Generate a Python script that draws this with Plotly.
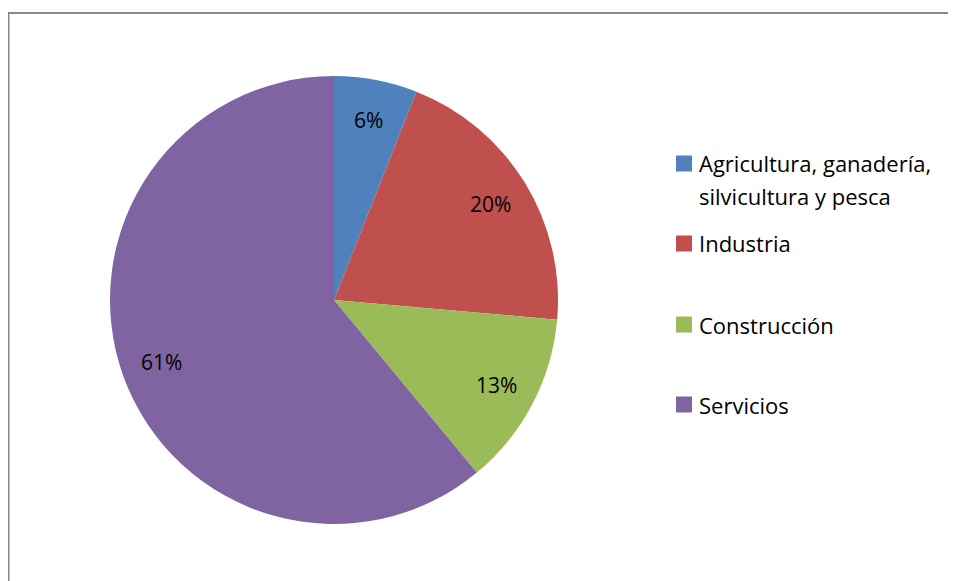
import math
import plotly.graph_objects as go

categories = ["Agricultura, ganadería, silvicultura y pesca", "Industria", "Construcción", "Servicios"]
legend_lines = [["Agricultura, ganadería,", "silvicultura y pesca"], ["Industria"], ["Construcción"], ["Servicios"]]
values = [6.0, 20.4, 12.6, 61.0]
colors = ["#4F81BD", "#C0504D", "#9BBB59", "#8064A2"]

# page body has an 8px margin: figure coords = screen coords - 8
W, H = 948, 573
cx, cy, r = 326, 292, 224
FONT = "Open Sans"

fig = go.Figure(go.Pie(
    labels=categories,
    values=values,
    sort=False,
    direction="clockwise",
    rotation=0,
    marker=dict(colors=colors, line=dict(width=0)),
    textinfo="none",
    showlegend=False,
    domain=dict(x=[(cx - r) / W, (cx + r) / W], y=[1 - (cy + r) / H, 1 - (cy - r) / H]),
    hovertemplate="%{label}: %{percent}<extra></extra>",
))

# data labels placed at the slice mid-angle, computed from the values
total = sum(values)
annotations = []
cum = 0.0
for v in values:
    mid = (cum + v / 2) / total * 2 * math.pi
    cum += v
    rr = 0.82 * r
    x = cx + rr * math.sin(mid)
    y = cy - rr * math.cos(mid)
    annotations.append(dict(
        x=x / W, y=1 - y / H, xref="paper", yref="paper",
        text=f"{round(v / total * 100):.0f}%", showarrow=False,
        font=dict(family=FONT, size=21, color="#000000"),
        xanchor="center", yanchor="middle",
    ))

# legend (drawn as key squares + text rows)
legend_rows = [155.5, 235.5, 316.5, 396.5]   # first-line centres
line_gap = 32
sym_x0, sym_size, text_x = 668, 16, 689
shapes = [dict(type="rect", xref="paper", yref="paper",
               x0=0.5 / W, x1=1.05, y0=-0.05, y1=1 - 5 / H,
               line=dict(color="#878787", width=2), fillcolor="rgba(0,0,0,0)")]
for lines, col, ry in zip(legend_lines, colors, legend_rows):
    shapes.append(dict(type="rect", xref="paper", yref="paper",
                       x0=sym_x0 / W, x1=(sym_x0 + sym_size) / W,
                       y0=1 - (ry + sym_size / 2) / H, y1=1 - (ry - sym_size / 2) / H,
                       line=dict(width=0), fillcolor=col))
    for i, t in enumerate(lines):
        annotations.append(dict(
            x=text_x / W, y=1 - (ry + i * line_gap) / H, xref="paper", yref="paper",
            text=t, showarrow=False, xanchor="left", yanchor="middle",
            font=dict(family=FONT, size=22, color="#000000"),
        ))

fig.update_layout(
    width=W, height=H,
    margin=dict(l=0, r=0, t=0, b=0),
    paper_bgcolor="white",
    plot_bgcolor="white",
    font=dict(family=FONT, size=20, color="#000000"),
    showlegend=False,
    annotations=annotations,
    shapes=shapes,
)

fig.write_html("out.html")
